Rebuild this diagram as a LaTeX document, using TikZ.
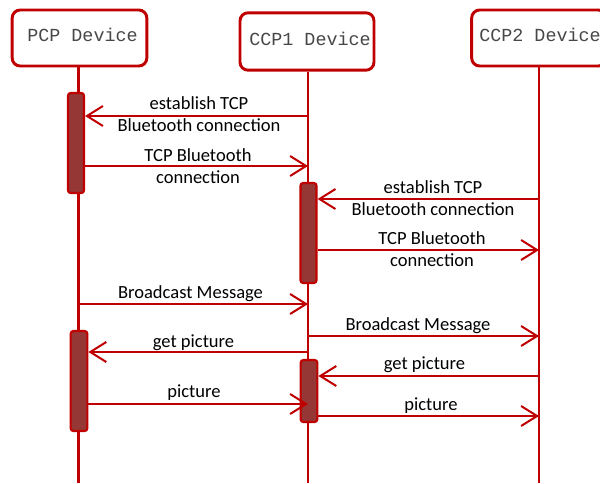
\documentclass[tikz,border=0pt]{standalone}
\usepackage{fontspec}
\setmainfont{Carlito}
\newfontfamily\monofam{Liberation Mono}
\usetikzlibrary{arrows.meta}
\definecolor{lnred}{RGB}{192,0,0}
\definecolor{barfill}{RGB}{149,55,53}

\begin{document}
\begin{tikzpicture}[x=0.75pt,y=-0.75pt,
  actor/.style={draw=lnred, line width=2.2pt, rounded corners=6pt, fill=white,
    minimum width=101pt, minimum height=42pt, inner sep=0pt},
  actortext/.style={font=\monofam\fontsize{13.8}{16}\selectfont, text=black!72,
    inner sep=0pt},
  life/.style={draw=lnred, line width=2.2pt},
  actbar/.style={draw=lnred, fill=barfill, line width=1.6pt, rounded corners=2pt,
    minimum width=12.5pt, inner sep=0pt},
  msg/.style={draw=lnred, line width=1.5pt,
    -{Straight Barb[length=12pt, width=15pt, line width=1.5pt]}},
  lbl/.style={font=\fontsize{13.9}{16.5}\selectfont, align=center, inner sep=0pt,
    text=black, yshift=-1.2pt}]
\useasboundingbox (0,0) rectangle (600,483);

% participants
\node[actor] (pcp)  at (79.5,38)  {};
\node[actor, minimum width=100.5pt, minimum height=43pt] (ccp1) at (307,41.5) {};
\node[actor] (ccp2) at (539,38)   {};
\node[actortext] (pcpname)  at (82.5,35) {PCP Device};
\node[actortext] (ccp1name) at (310,39)  {CCP1 Device};
\node[actortext, anchor=west] (ccp2name) at (479,35) {CCP2 Device};

% lifelines
\coordinate (pcpend)  at (78.5,483);
\coordinate (ccp1end) at (308,483);
\coordinate (ccp2end) at (539,483);
\draw[life] (pcpend |- pcp.south)   -- (pcpend);
\draw[life] (ccp1end |- ccp1.south) -- (ccp1end);
\draw[life] (ccp2.south) -- (ccp2end);

% activation bars
\node[actbar, minimum height=75pt, minimum width=12pt] (pcpA)  at (76,143)  {};
\node[actbar, minimum height=75pt, minimum width=12pt] (ccp1A) at (308.5,233) {};
\node[actbar, minimum height=75pt]   (pcpB)  at (79,381)  {};
\node[actbar, minimum height=46.5pt] (ccp1B) at (309,391) {};

% messages
\draw[msg] (ccp1end |- 0,116) -- (pcpA.east |- 0,116);
\node[lbl] (m1) at (199,113) {establish TCP\\Bluetooth connection};

\draw[msg] (pcpA.east |- 0,166) -- (ccp1end |- 0,166);
\node[lbl] (m2) at (198,164.5) {TCP Bluetooth\\connection};

\draw[msg] (ccp2.south |- 0,199) -- (ccp1A.east |- 0,199);
\node[lbl] (m3) at (433,197) {establish TCP\\Bluetooth connection};

\draw[msg] (ccp1A.east |- 0,250) -- (ccp2.south |- 0,250);
\node[lbl] (m4) at (432,247.5) {TCP Bluetooth\\connection};

\draw[msg] (pcpend |- 0,304) -- (ccp1end |- 0,304);
\node[lbl] (m5) at (190.5,292) {Broadcast Message};

\draw[msg] (ccp1end |- 0,336) -- (ccp2.south |- 0,336);
\node[lbl] (m6) at (418,324) {Broadcast Message};

\draw[msg] (ccp1end |- 0,352) -- (pcpB.east |- 0,352);
\node[lbl] (m7) at (193.5,341) {get picture};

\draw[msg] (ccp2.south |- 0,376) -- (ccp1B.east |- 0,376);
\node[lbl] (m8) at (424.5,363) {get picture};

\draw[msg] (pcpB.east |- 0,404) -- (ccp1end |- 0,404);
\node[lbl] (m9) at (194,391) {picture};

\draw[msg] (ccp1B.east |- 0,416) -- (ccp2.south |- 0,416);
\node[lbl] (m10) at (431,404) {picture};
\end{tikzpicture}
\end{document}
